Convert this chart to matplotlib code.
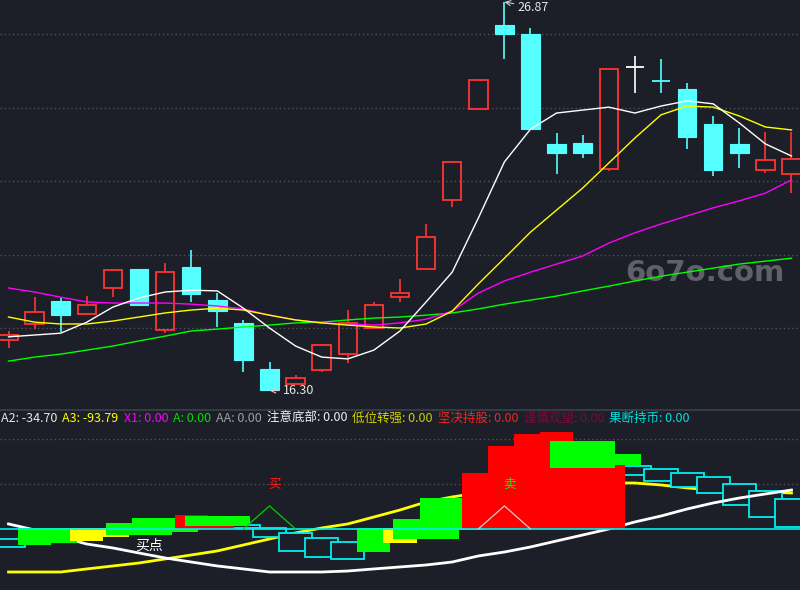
import matplotlib.pyplot as plt
from matplotlib.patches import Rectangle
from matplotlib.lines import Line2D

plt.rcParams['font.family'] = ['Noto Sans CJK SC', 'DejaVu Sans']

BG = '#1c1f27'
RED = '#ff3333'
CYAN = '#55ffff'

# K线 (开 高 低 收)
opens  = [17.67, 18.11, 18.73, 18.38, 19.09, 19.61, 17.95, 19.66, 18.76, 18.14, 16.88,
          16.48, 16.86, 17.29, 18.00, 18.84, 19.61, 21.48, 23.96, 26.24, 26.00, 23.01,
          23.03, 22.33, 25.10, 24.73, 24.50, 23.55, 23.01, 22.30, 22.19]
highs  = [17.92, 18.84, 18.82, 18.86, 19.58, 19.61, 19.77, 20.12, 18.95, 18.22, 17.07,
          16.72, 17.56, 18.49, 18.71, 19.33, 20.83, 22.52, 24.75, 26.87, 26.16, 23.31,
          23.25, 25.05, 25.40, 25.32, 24.67, 23.77, 23.44, 23.33, 23.33]
lows   = [17.46, 17.97, 17.89, 18.38, 18.84, 18.60, 17.86, 18.71, 18.03, 16.80, 16.30,
          16.45, 16.80, 17.05, 18.00, 18.71, 19.61, 21.29, 23.96, 25.32, 23.41, 22.19,
          22.63, 22.27, 24.39, 24.39, 22.87, 22.14, 22.35, 22.22, 21.67]
closes = [17.81, 18.44, 18.35, 18.63, 19.58, 18.63, 19.52, 18.93, 18.46, 17.13, 16.31,
          16.64, 17.54, 18.14, 18.63, 18.95, 20.48, 22.52, 24.75, 26.00, 23.41, 22.76,
          22.76, 25.05, 25.10, 24.71, 23.20, 22.30, 22.76, 22.57, 22.60]

# 均线
ma_white = [17.76, 17.81, 17.86, 18.16, 18.57, 18.82, 18.98, 19.03, 19.01, 18.54, 18.00,
            17.51, 17.21, 17.16, 17.40, 17.92, 18.71, 19.52, 20.99, 22.52, 23.41, 23.85,
            23.93, 24.01, 23.85, 24.04, 24.18, 24.10, 23.58, 23.01, 22.68]
ma_yellow = [18.30, 18.16, 18.11, 18.11, 18.19, 18.30, 18.41, 18.49, 18.54, 18.49, 18.35,
             18.22, 18.14, 18.08, 18.03, 18.00, 18.11, 18.46, 19.20, 19.90, 20.61, 21.21,
             21.81, 22.49, 23.17, 23.80, 24.04, 24.01, 23.77, 23.47, 23.39]
ma_magenta = [19.09, 18.98, 18.84, 18.71, 18.68, 18.68, 18.68, 18.65, 18.60, 18.52, 18.35,
              18.22, 18.14, 18.11, 18.08, 18.14, 18.24, 18.46, 18.95, 19.28, 19.52, 19.74,
              19.96, 20.31, 20.59, 20.83, 21.05, 21.27, 21.46, 21.67, 22.03]
ma_green = [17.10, 17.21, 17.29, 17.40, 17.51, 17.65, 17.78, 17.92, 17.97, 18.03, 18.08,
            18.14, 18.16, 18.22, 18.27, 18.30, 18.35, 18.41, 18.52, 18.65, 18.76, 18.87,
            19.01, 19.14, 19.28, 19.41, 19.52, 19.63, 19.74, 19.82, 19.90]

# 副图指标
line_white = [5.6, -1.1, -8.9, -16.7, -21.1, -26.7, -32.2, -36.7, -41.1, -44.4, -47.8,
              -47.8, -47.8, -46.7, -44.4, -42.2, -40.0, -36.7, -30.0, -25.6, -20.0, -13.3,
              -6.7, 0.0, 7.8, 14.4, 22.2, 28.9, 34.4, 38.9, 43.3]
line_yellow = [-47.8, -47.8, -47.8, -44.4, -41.1, -37.8, -33.3, -28.9, -24.4, -17.8, -11.1,
               -4.4, 1.1, 5.6, 13.3, 21.1, 30.0, 35.6, 40.0, 43.3, 45.6, 47.8,
               50.0, 51.1, 51.1, 48.9, 45.6, 43.3, 42.2, 41.1, 40.0]

green_low_idx = [1, 2, 14]
green_low_top = [1, 1, 1]
green_low_bot = [-17.8, -15.6, -25.6]

yellow_blk_idx = [3, 4, 15]
yellow_blk_top = [1, 1, 1]
yellow_blk_bot = [-13.3, -8.9, -15.6]

green_wide_idx = [5, 6, 16, 17]
green_wide_top = [6.7, 12.6, 11.1, 34.4]
green_wide_bot = [-6.7, -3.0, -11.1, -1.1]

red_idx = [7, 8, 18, 19, 20, 21, 22, 23]
red_top = [15.6, 3.3, 62.2, 92.2, 105.6, 107.8, 87.8, 71.1]
red_bot = [0, 0, 0, 0, 0, 0, 0, 0]

green_top_idx = [8, 22, 23]
green_top_top = [14.4, 97.8, 83.3]
green_top_bot = [3.3, 67.8, 71.1]

box_idx = [0, 9, 10, 11, 12, 13, 24, 25, 26, 27, 28, 29, 30]
box_top = [-11.1, 4.4, 1.1, -4.4, -10.0, -14.4, 70.0, 66.7, 62.2, 57.8, 50.0, 42.2, 33.3]
box_bot = [-20.0, 1.1, -8.9, -24.4, -31.1, -33.3, 60.0, 53.3, 46.7, 40.0, 26.7, 13.3, 2.2]

buy_tri_idx = [9, 10, 11]
buy_tri_val = [0, 25.6, 0]
sell_tri_idx = [18, 19, 20]
sell_tri_val = [0, 25.6, 0]

legend_names = ['A2', 'A3', 'X1', 'A', 'AA', '注意底部', '低位转强', '坚决持股', '谨慎观望', '果断持币']
legend_values = [-34.70, -93.79, 0.00, 0.00, 0.00, 0.00, 0.00, 0.00, 0.00, 0.00]
legend_colors = ['#e6e6e6', '#ffff00', '#ff00ff', '#00e000', '#a0a0a0',
                 '#f0f0f0', '#d0d000', '#ff2020', '#7a0a3a', '#00e0e0']

n = len(opens)
idx = list(range(n))

fig = plt.figure(figsize=(8, 5.9), dpi=100, facecolor=BG)
ax = fig.add_axes([0, 180 / 590, 1, 410 / 590])
ax2 = fig.add_axes([0, 0, 1, 180 / 590])
for a in (ax, ax2):
    a.set_facecolor(BG)
    a.set_xlim(-0.326, 30.326)
    for s in a.spines.values():
        s.set_visible(False)
    a.set_xticks([])
    a.set_yticks([])
ax.set_ylim(15.77, 26.925)
ax2.set_ylim(-67.8, 132.2)

grid_kw = dict(color='#50535b', lw=1, ls=(0, (1, 2)), zorder=0)
for g in [18, 20, 22, 24, 26]:
    ax.axhline(g, **grid_kw)
for g in [50, 100]:
    ax2.axhline(g, **grid_kw)

# 水印
ax.text(26.69, 19.5, '6o7o.com', ha='center', va='center', fontsize=21,
        fontweight='bold', color='#5f6167', family='DejaVu Sans', zorder=1)

# K线
body_w = 0.71
for i in idx:
    o, h, l, c = opens[i], highs[i], lows[i], closes[i]
    top, bot = max(o, c), min(o, c)
    if c > o:
        ax.vlines(i, top, h, color=RED, lw=1.2, zorder=2)
        ax.vlines(i, l, bot, color=RED, lw=1.2, zorder=2)
        ax.add_patch(Rectangle((i - body_w / 2, bot), body_w, top - bot,
                               facecolor='none', edgecolor=RED, lw=1.3, zorder=2))
    else:
        color = CYAN if c < o else 'white'
        ax.vlines(i, l, h, color=color, lw=1.2, zorder=2)
        if top - bot < 0.03:
            ax.hlines(c, i - body_w / 2, i + body_w / 2, color=color, lw=1.3, zorder=2)
        else:
            ax.add_patch(Rectangle((i - body_w / 2, bot), body_w, top - bot,
                                   facecolor=color, edgecolor=color, lw=0.8, zorder=2))

ax.plot(idx, ma_green, color='#00ff00', lw=1, zorder=3)
ax.plot(idx, ma_magenta, color='#ff00ff', lw=1, zorder=3)
ax.plot(idx, ma_yellow, color='#ffff00', lw=1, zorder=3)
ax.plot(idx, ma_white, color='white', lw=1, zorder=3)

hi = highs.index(max(highs))
lo = lows.index(min(lows))
arrow = dict(arrowstyle='->', color='#d0d0d0', lw=0.8, shrinkA=1, shrinkB=0)
ax.annotate(f'{highs[hi]:.2f}', xy=(hi, highs[hi]), xytext=(9.7, -3.6),
            textcoords='offset points', ha='left', va='center', fontsize=9,
            color='#e6e6e6', arrowprops=arrow, zorder=5)
ax.annotate(f'{lows[lo]:.2f}', xy=(lo, lows[lo]), xytext=(9.7, 0),
            textcoords='offset points', ha='left', va='center', fontsize=9,
            color='#e6e6e6', arrowprops=arrow, zorder=5)

# 副图
narrow, wide = 1.27, 2.5


def blocks(ids, tops, bots, width, face, edge, z, lw=0.0):
    for i, t, b in zip(ids, tops, bots):
        ax2.add_patch(Rectangle((i - width / 2, b), width, t - b, facecolor=face,
                                edgecolor=edge, lw=lw, zorder=z))


ax2.plot(idx, line_yellow, color='#ffff00', lw=2.0, zorder=1)
blocks(box_idx, box_top, box_bot, narrow, BG, '#00f0f0', 2, lw=1.3)
ax2.plot(idx, line_white, color='white', lw=2.0, zorder=3)
blocks(green_low_idx, green_low_top, green_low_bot, narrow, '#00ff00', 'none', 4)
blocks(yellow_blk_idx, yellow_blk_top, yellow_blk_bot, narrow, '#ffff00', 'none', 5)
blocks(green_wide_idx, green_wide_top, green_wide_bot, wide, '#00ff00', 'none', 6)
blocks(red_idx, red_top, red_bot, narrow, '#ff0000', 'none', 7)
blocks(green_top_idx, green_top_top, green_top_bot, wide, '#00ff00', 'none', 8)
ax2.axhline(0, color='#00f0f0', lw=1.2, zorder=9)
ax2.plot(buy_tri_idx, buy_tri_val, color='#00d000', lw=0.9, zorder=10)
ax2.plot(sell_tri_idx, sell_tri_val, color='#d0d0d0', lw=0.9, zorder=10)
ax2.text(10.2, 51, '买', color='#ff2020', fontsize=9, ha='center', va='center', zorder=11)
ax2.text(19.2, 50, '卖', color='#00ff00', fontsize=9, ha='center', va='center', zorder=11)
ax2.text(5.4, -19, '买点', color='white', fontsize=10, ha='center', va='center', zorder=11)

fig.add_artist(Line2D([0, 1], [180 / 590, 180 / 590], transform=fig.transFigure,
                      color='#3c4049', lw=1.2))

renderer = fig.canvas.get_renderer()
x_px = 1
for name, val, col in zip(legend_names, legend_values, legend_colors):
    t = fig.text(x_px / 800, 1 - 418 / 590, f'{name}: {val:.2f}', color=col,
                 fontsize=9, ha='left', va='center')
    bb = t.get_window_extent(renderer)
    x_px = bb.x1 + 5

fig.savefig('out.png', dpi=100, facecolor=BG)
